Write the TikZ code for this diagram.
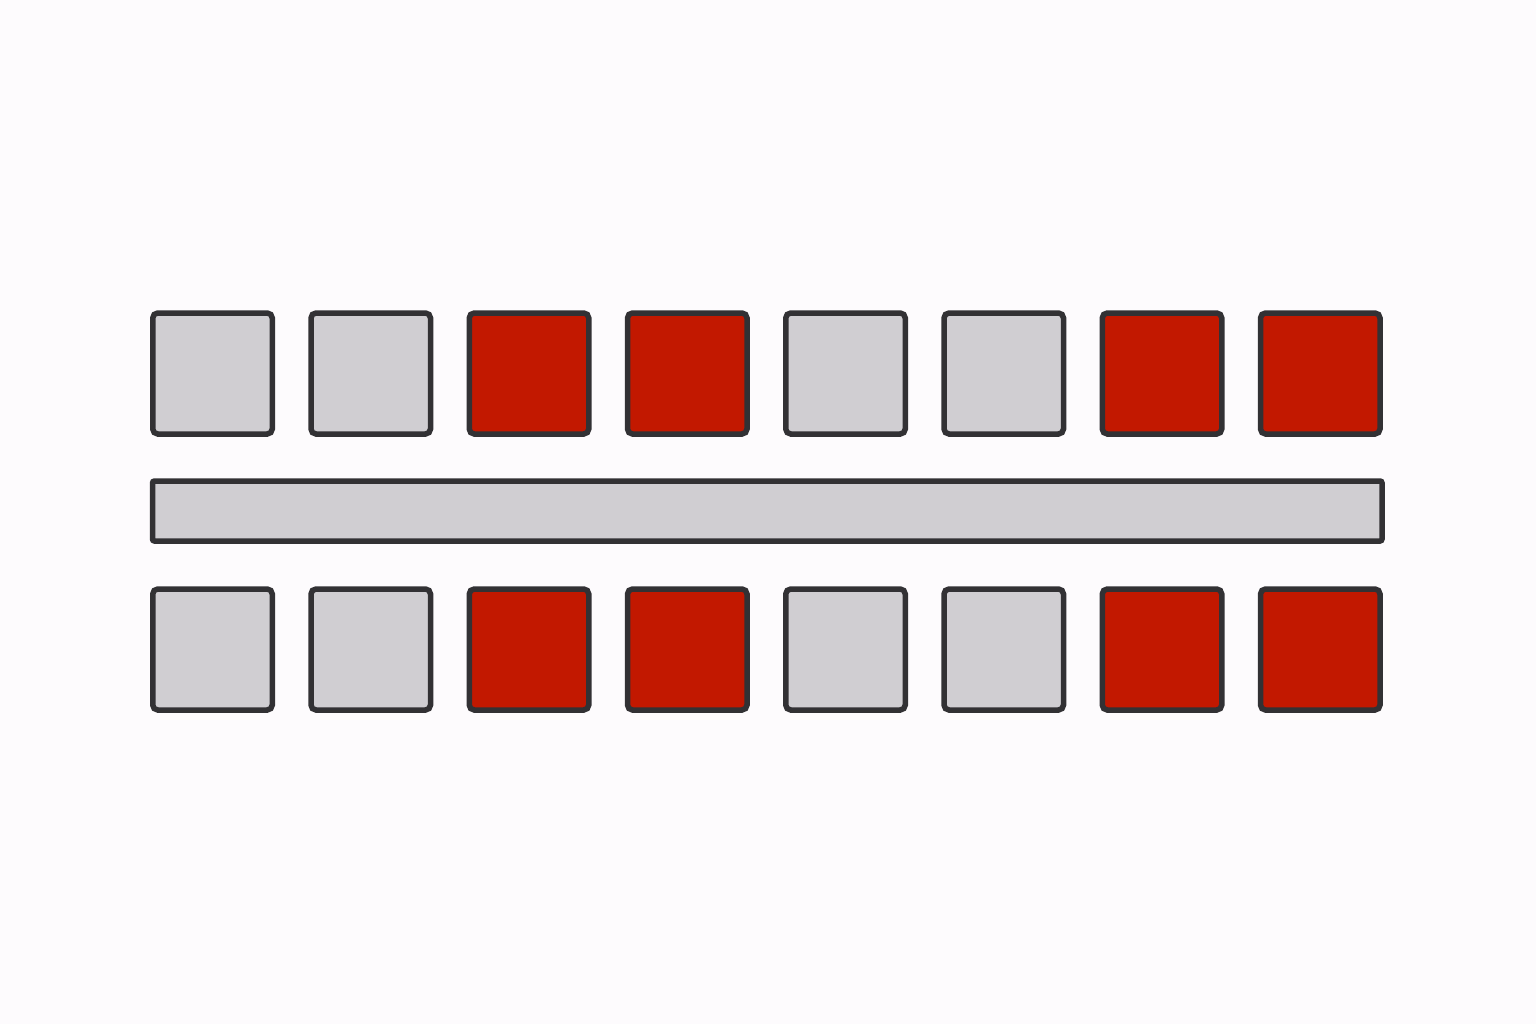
\documentclass[tikz,border=0pt]{standalone}
\begin{document}
\begin{tikzpicture}[x=1pt,y=-1pt,
  cellbase/.style={draw=edgecol,line width=5.5pt,rounded corners=5pt,minimum width=119.5pt,minimum height=121pt,inner sep=0pt,outer sep=0pt},
  greycell/.style={cellbase,fill=greyfill},
  redcell/.style={cellbase,fill=redfill},
  barbox/.style={draw=edgecol,line width=5.5pt,rounded corners=2pt,fill=greyfill}]
\definecolor{greyfill}{HTML}{D0CED2}
\definecolor{redfill}{HTML}{C21800}
\definecolor{edgecol}{HTML}{323134}
\definecolor{bgcol}{HTML}{FDFBFD}
\fill[bgcol] (0,0) rectangle (1536,1024);
\useasboundingbox (0,0) rectangle (1536,1024);
\foreach \i/\s in {0/greycell,1/greycell,2/redcell,3/redcell,4/greycell,5/greycell,6/redcell,7/redcell}{
  \node[\s] (t\i) at ({212.5+158.25*\i},373.5) {};
  \node[\s] (b\i) at ({212.5+158.25*\i},649.5) {};
}
\draw[barbox] (152.5,481) rectangle (1382,541);
\end{tikzpicture}
\end{document}
